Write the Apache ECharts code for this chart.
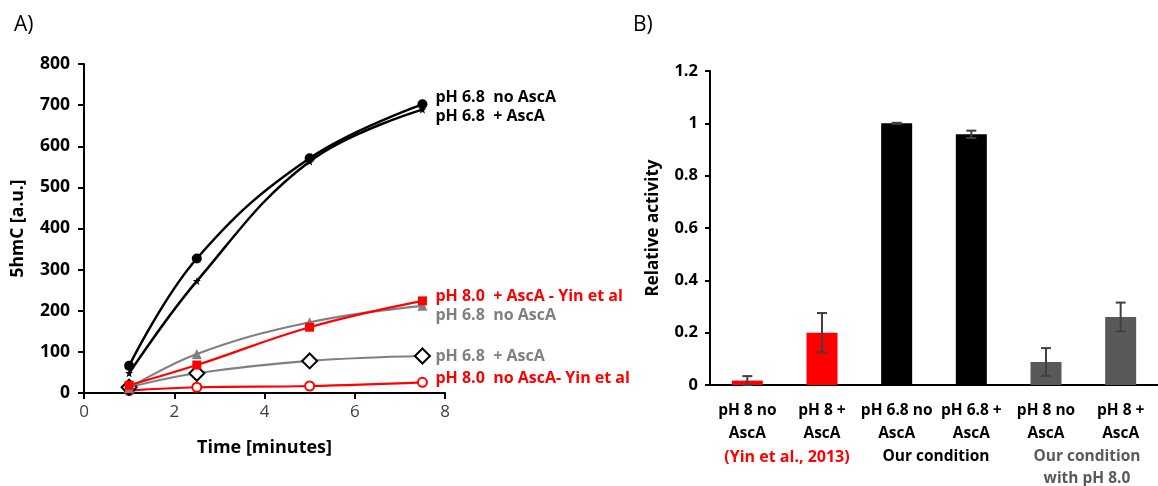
<!DOCTYPE html>
<html><head><meta charset="utf-8">
<script src="https://cdn.jsdelivr.net/npm/echarts@6/dist/echarts.min.js"></script>
<style>html,body{margin:0;padding:0;background:#fff}#c{width:1158px;height:486px}</style>
</head><body><div id="c"></div>
<script>
// ---- Panel A data ----
const timePts = [1, 2.5, 5, 7.5];
const ph68NoAscA = [66, 327, 571, 702];
const ph68AscA = [48, 272, 563, 689];
const ph80AscAYin = [19, 68, 160, 224];
const ph68NoAscAGray = [12, 95, 172, 212];
const ph68AscAGray = [14, 48, 78, 90];
const ph80NoAscAYin = [6, 14, 17, 26];
const seriesNames = ['pH 6.8  no AscA', 'pH 6.8  + AscA', 'pH 8.0  + AscA - Yin et al', 'pH 6.8  no AscA', 'pH 6.8  + AscA', 'pH 8.0  no AscA- Yin et al'];
// ---- Panel B data ----
const barCats = ['pH 8 no\nAscA', 'pH 8 +\nAscA', 'pH 6.8 no\nAscA', 'pH 6.8 +\nAscA', 'pH 8 no\nAscA', 'pH 8 +\nAscA'];
const barVals = [0.017, 0.2, 1.0, 0.958, 0.088, 0.26];
const barErr = [0.017, 0.075, 0.002, 0.014, 0.053, 0.055];
const barColors = ['#ff0000', '#ff0000', '#000000', '#000000', '#595959', '#595959'];

const FONT = 'Open Sans';
const pts = arr => timePts.map((t, i) => [t, arr[i]]);
const STAR = 'path://M0,-5L1.2,-1.6L5,-1.6L2,0.8L3.2,4.6L0,2.4L-3.2,4.6L-2,0.8L-5,-1.6L-1.2,-1.6Z';

function lineSeries(name, data, lineColor, lineWidth, symbol, size, fill, border, labelColor, dy, z) {
  return {
    type: 'line', name, data: pts(data), xAxisIndex: 0, yAxisIndex: 0,
    smooth: 0.4, symbol, symbolSize: size, z,
    lineStyle: { color: lineColor, width: lineWidth },
    itemStyle: { color: fill, borderColor: border, borderWidth: fill === '#ffffff' ? 2 : 0 },
    endLabel: { show: true, formatter: name, distance: 0, offset: [13, dy], color: labelColor,
      fontFamily: FONT, fontWeight: 'bold', fontSize: 16, align: 'left', verticalAlign: 'middle' }
  };
}

const chart = echarts.init(document.getElementById('c'), null, { renderer: 'canvas' });
chart.setOption({
  animation: false,
  textStyle: { fontFamily: FONT },
  grid: [
    { left: 84, top: 64, width: 361, height: 329 },
    { left: 710, top: 71, width: 458, height: 314 }
  ],
  xAxis: [
    { type: 'value', gridIndex: 0, min: 0, max: 8, interval: 2,
      name: 'Time [minutes]', nameLocation: 'middle', nameGap: 46,
      nameTextStyle: { fontFamily: FONT, fontWeight: 'bold', fontSize: 18, color: '#000' },
      axisLine: { lineStyle: { color: '#000', width: 2 } },
      axisTick: { show: true, length: 6, lineStyle: { color: '#000', width: 2 } },
      axisLabel: { fontFamily: FONT, fontSize: 17, color: '#404040', margin: 11 },
      splitLine: { show: false } },
    { type: 'category', gridIndex: 1, data: barCats,
      axisLine: { lineStyle: { color: '#000', width: 2 } },
      axisTick: { show: false },
      axisLabel: { fontFamily: FONT, fontWeight: 'bold', fontSize: 15.5, color: '#000', lineHeight: 23, margin: 14, interval: 0 } }
  ],
  yAxis: [
    { type: 'value', gridIndex: 0, min: 0, max: 800, interval: 100,
      name: '5hmC [a.u.]', nameLocation: 'middle', nameGap: 57, nameRotate: 90,
      nameTextStyle: { fontFamily: FONT, fontWeight: 'bold', fontSize: 17.5, color: '#000' },
      axisLine: { show: true, lineStyle: { color: '#000', width: 2 } },
      axisTick: { show: true, length: 6, lineStyle: { color: '#000', width: 2 } },
      axisLabel: { fontFamily: FONT, fontWeight: 'bold', fontSize: 17.5, color: '#000', margin: 14 },
      splitLine: { show: false } },
    { type: 'value', gridIndex: 1, min: 0, max: 1.2, interval: 0.2,
      name: 'Relative activity', nameLocation: 'middle', nameGap: 48, nameRotate: 90,
      nameTextStyle: { fontFamily: FONT, fontWeight: 'bold', fontSize: 17, color: '#000' },
      axisLine: { show: true, lineStyle: { color: '#000', width: 2 } },
      axisTick: { show: true, length: 5, lineStyle: { color: '#000', width: 2 } },
      axisLabel: { fontFamily: FONT, fontWeight: 'bold', fontSize: 16.5, color: '#000', margin: 12 },
      splitLine: { show: false } }
  ],
  series: [
    lineSeries(seriesNames[5], ph80NoAscAYin, '#ff0000', 2.2, 'circle', 9, '#ffffff', '#ff0000', '#ff0000', -4, 2),
    lineSeries(seriesNames[4], ph68AscAGray, '#808080', 2.2, 'diamond', 15, '#ffffff', '#000000', '#7f7f7f', 0, 3),
    lineSeries(seriesNames[3], ph68NoAscAGray, '#808080', 2.2, 'triangle', 10, '#808080', '#808080', '#7f7f7f', 10, 4),
    lineSeries(seriesNames[2], ph80AscAYin, '#ff0000', 2.2, 'rect', 9, '#ff0000', '#ff0000', '#ff0000', -4, 5),
    lineSeries(seriesNames[1], ph68AscA, '#000000', 2.5, STAR, 8, '#000000', '#000000', '#000000', 7, 6),
    lineSeries(seriesNames[0], ph68NoAscA, '#000000', 2.5, 'circle', 10, '#000000', '#000000', '#000000', -7, 7),
    { type: 'bar', xAxisIndex: 1, yAxisIndex: 1, barWidth: 31,
      data: barVals.map((v, i) => ({ value: v, itemStyle: { color: barColors[i] } })) },
    { type: 'custom', xAxisIndex: 1, yAxisIndex: 1, z: 10,
      data: barVals.map((v, i) => [i, v - barErr[i], v + barErr[i]]),
      renderItem: function (params, api) {
        const lo = api.coord([api.value(0), api.value(1)]);
        const hi = api.coord([api.value(0), api.value(2)]);
        const w = 5;
        const st = { stroke: '#404040', lineWidth: 2 };
        return { type: 'group', children: [
          { type: 'line', shape: { x1: hi[0], y1: hi[1], x2: lo[0], y2: lo[1] }, style: st },
          { type: 'line', shape: { x1: hi[0] - w, y1: hi[1], x2: hi[0] + w, y2: hi[1] }, style: st },
          { type: 'line', shape: { x1: lo[0] - w, y1: lo[1], x2: lo[0] + w, y2: lo[1] }, style: st }
        ] };
      } }
  ],
  graphic: [
    { type: 'text', left: 14, top: 15, style: { text: 'A)', fontFamily: FONT, fontSize: 21, fill: '#000' } },
    { type: 'text', left: 633, top: 15, style: { text: 'B)', fontFamily: FONT, fontSize: 21, fill: '#000' } },
    { type: 'text', x: 787, y: 457, style: { text: '(Yin et al., 2013)', fontFamily: FONT, fontWeight: 'bold', fontSize: 16, fill: '#ff0000', align: 'center', verticalAlign: 'middle' } },
    { type: 'text', x: 936, y: 457, style: { text: 'Our condition', fontFamily: FONT, fontWeight: 'bold', fontSize: 15.5, fill: '#000000', align: 'center', verticalAlign: 'middle' } },
    { type: 'text', x: 1087, y: 457, style: { text: 'Our condition', fontFamily: FONT, fontWeight: 'bold', fontSize: 15.5, fill: '#595959', align: 'center', verticalAlign: 'middle' } },
    { type: 'text', x: 1087, y: 479, style: { text: 'with pH 8.0', fontFamily: FONT, fontWeight: 'bold', fontSize: 15.5, fill: '#595959', align: 'center', verticalAlign: 'middle' } }
  ]
});
</script></body></html>
